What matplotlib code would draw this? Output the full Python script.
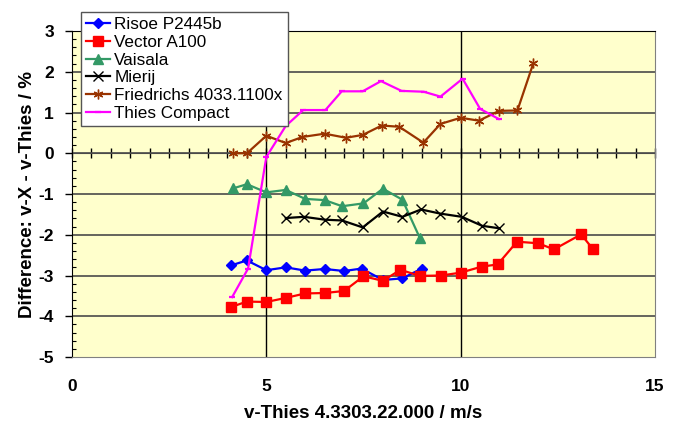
import numpy as np
import matplotlib
matplotlib.use("Agg")
import matplotlib.pyplot as plt

plt.rcParams['font.family'] = ['Liberation Sans', 'DejaVu Sans']
plt.rcParams['axes.unicode_minus'] = False

# values
risoe_x = [4.1, 4.5, 5.0, 5.5, 6.0, 6.5, 7.0, 7.45, 8.0, 8.5, 9.0]
risoe_y = [-2.75, -2.63, -2.87, -2.80, -2.88, -2.84, -2.89, -2.83, -3.11, -3.07, -2.83]

vector_x = [4.1, 4.5, 5.0, 5.5, 6.0, 6.5, 7.0, 7.5, 8.0, 8.45, 8.95, 9.5, 10.0, 10.55, 10.95, 11.45, 12.0, 12.4, 13.1, 13.4]
vector_y = [-3.77, -3.64, -3.65, -3.55, -3.44, -3.43, -3.38, -3.02, -3.13, -2.86, -3.01, -3.0, -2.93, -2.78, -2.73, -2.17, -2.21, -2.36, -1.99, -2.35]

vaisala_x = [4.15, 4.5, 5.0, 5.5, 6.0, 6.5, 6.95, 7.5, 8.0, 8.5, 8.95]
vaisala_y = [-0.86, -0.76, -0.96, -0.90, -1.12, -1.15, -1.30, -1.23, -0.87, -1.14, -2.08]

mierij_x = [5.5, 5.97, 6.5, 6.95, 7.48, 8.0, 8.5, 8.98, 9.47, 10.03, 10.55, 10.98]
mierij_y = [-1.59, -1.56, -1.63, -1.65, -1.82, -1.43, -1.56, -1.38, -1.48, -1.56, -1.78, -1.84]

fried_x = [4.13, 4.5, 5.0, 5.5, 5.93, 6.5, 7.05, 7.48, 7.97, 8.42, 9.04, 9.48, 10.0, 10.47, 10.99, 11.46, 11.87]
fried_y = [0.0, 0.0, 0.43, 0.25, 0.40, 0.48, 0.38, 0.45, 0.68, 0.65, 0.26, 0.72, 0.87, 0.80, 1.04, 1.05, 2.21]

thies_x = [4.12, 4.53, 5.0, 5.5, 5.95, 6.52, 6.94, 7.48, 7.95, 8.48, 9.05, 9.48, 10.05, 10.5, 10.98]
thies_y = [-3.53, -2.83, -0.09, 0.67, 1.06, 1.06, 1.52, 1.52, 1.77, 1.53, 1.51, 1.39, 1.83, 1.09, 0.84]

fig = plt.figure(figsize=(6.8, 4.21), dpi=100)
ax = fig.add_axes([72/680, 1 - 357/421, (655 - 72)/680, (357 - 31)/421])
ax.set_facecolor('#FFFFCC')

# grid: horizontal every 1, vertical at 5 and 10
for yv in range(-4, 3):
    ax.axhline(yv, color='#4a4a4a', lw=1.2, zorder=1)
for xv in [5, 10]:
    ax.axvline(xv, color='black', lw=1.0, zorder=1)

ax.plot(risoe_x, risoe_y, color='#0000FF', marker='D', ms=5, lw=1.6, label='Risoe P2445b', zorder=3)
ax.plot(vector_x, vector_y, color='#FF0000', marker='s', ms=6.5, lw=1.6, label='Vector A100', zorder=3)
ax.plot(vaisala_x, vaisala_y, color='#339966', marker='^', ms=6.5, lw=1.6, label='Vaisala', zorder=3)
ax.plot(mierij_x, mierij_y, color='black', marker='x', ms=6.5, mew=1.0, lw=1.6, label='Mierij', zorder=3)
ax.plot(fried_x, fried_y, color='#993300', marker=(6, 2, 0), ms=7, mew=1.0, lw=1.6, label='Friedrichs 4033.1100x', zorder=3)
ax.plot(thies_x, thies_y, color='#FF00FF', marker='_', ms=5, mew=1.6, lw=1.6, label='Thies Compact', zorder=3)

ax.set_xlim(0, 15)
ax.set_ylim(-5, 3)
ax.set_xticks([0, 5, 10, 15])
ax.set_yticks(range(-5, 4))
ax.set_yticks(np.arange(-5, 3.01, 0.2), minor=True)
ax.tick_params(axis='x', length=0, pad=16, labelsize=12.5)
ax.tick_params(axis='y', which='major', direction='out', length=5, width=1, pad=8, labelsize=12.5)
ax.tick_params(axis='y', which='minor', direction='in', length=3, width=0.8)
for lab in ax.get_xticklabels() + ax.get_yticklabels():
    lab.set_fontweight('bold')

ax.spines['left'].set_color('black')
ax.spines['top'].set_color('black')
ax.spines['right'].set_color('#808080')
ax.spines['bottom'].set_color('#808080')

# x axis line crossing at y = 0 with its tick marks
sec = ax.secondary_xaxis(5/8)
sec.set_xticks(np.arange(0, 15.01, 0.5))
sec.tick_params(axis='x', direction='inout', length=7, width=1, labelbottom=False, labeltop=False)
sec.spines['bottom'].set_color('#4a4a4a')
sec.spines['top'].set_color('#4a4a4a')

ax.set_xlabel('v-Thies 4.3303.22.000 / m/s', fontsize=13.5, fontweight='bold', labelpad=8)
ax.set_ylabel('Difference: v-X - v-Thies / %', fontsize=13.5, fontweight='bold', labelpad=2)

leg = fig.legend(loc='upper left', bbox_to_anchor=(81/680, 1 - 12/421), borderaxespad=0,
                 fontsize=12.3, fancybox=False, framealpha=1, edgecolor='#555555',
                 handlelength=1.4, handletextpad=0.25, labelspacing=0.16, borderpad=0.3)
leg.get_frame().set_linewidth(1.0)

fig.savefig('out.png', dpi=100)
